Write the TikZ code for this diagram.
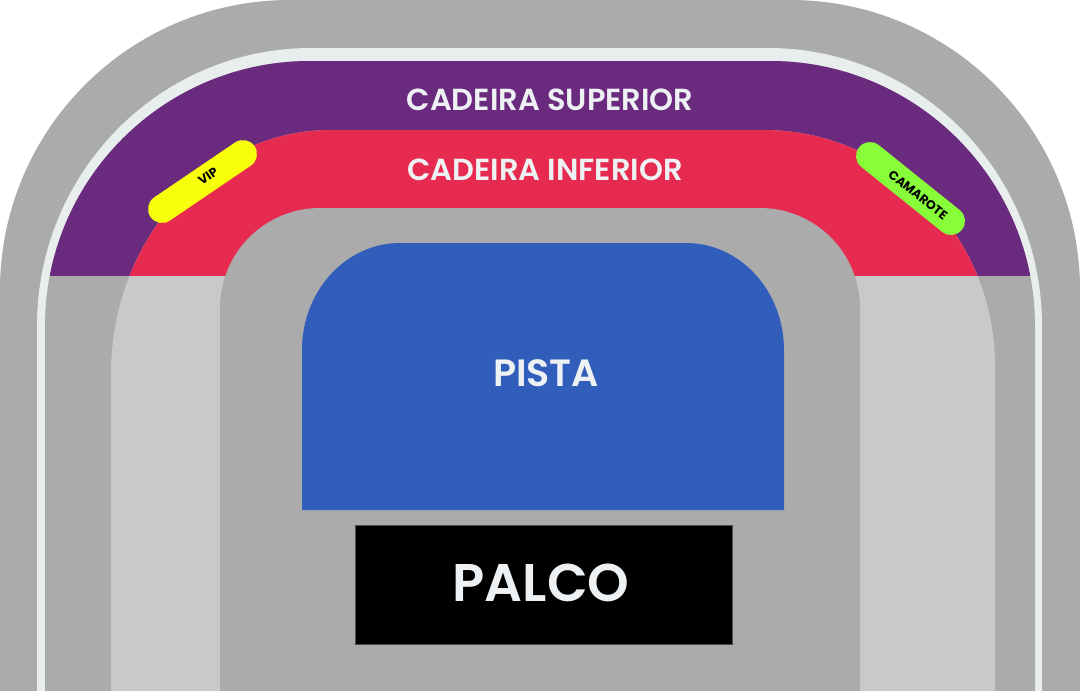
\documentclass[tikz,border=0pt]{standalone}
\usepackage{fontspec}
\setmainfont{Poppins}[BoldFont={Poppins SemiBold}]
\newfontfamily\pillfont{Poppins}
\definecolor{grayA}{HTML}{ABABAB}
\definecolor{grayL}{HTML}{C9C9C9}
\definecolor{stripC}{HTML}{E8EEEE}
\definecolor{purpleC}{HTML}{6A2A7E}
\definecolor{redC}{HTML}{E72A4F}
\definecolor{blueC}{HTML}{315DBB}
\definecolor{yellowC}{HTML}{F8FF0B}
\definecolor{greenC}{HTML}{88FD3A}
\definecolor{txtC}{HTML}{EEF1F3}
% #1 left x, #2 top y, #3 right x, #4 bottom y, #5 left rx, #6 left ry, #7 right rx, #8 right ry
\newcommand\TopRound[8]{(#1,#4) -- (#1,#2+#6) .. controls (#1,#2+0.4477*#6) and (#1+0.4477*#5,#2) .. (#1+#5,#2) -- (#3-#7,#2) .. controls (#3-0.4477*#7,#2) and (#3,#2+0.4477*#8) .. (#3,#2+#8) -- (#3,#4) -- cycle}
\tikzset{
  zonelabel/.style={text=txtC, font=\bfseries\fontsize{30.5}{36}\selectfont, inner sep=0pt},
  pill/.style={line width=28pt, line cap=round},
  pilllabel/.style={text=black, font=\pillfont\bfseries\fontsize{12.5}{14}\selectfont, inner sep=0pt}
}
\begin{document}
\begin{tikzpicture}[x=1pt,y=-1pt]
\useasboundingbox (0,0) rectangle (1080,691);
\fill[white] (0,0) rectangle (1080,691);
% outer gray
\fill[grayA] \TopRound{0}{0}{1080}{720}{290}{290}{290}{290};
% light strip
\fill[stripC] \TopRound{37}{48}{1042}{720}{274}{278}{274}{278};
% gray inside strip
\fill[grayA] \TopRound{45}{61}{1035}{720}{265}{265}{265}{265};
\begin{scope}
  \clip (0,0) rectangle (1080,275);
  \fill[purpleC] \TopRound{45}{61}{1035}{720}{265}{265}{265}{265};
\end{scope}
% lower ring
\fill[grayL] \TopRound{111}{130}{995}{720}{220}{244}{232}{236};
\begin{scope}
  \clip (0,0) rectangle (1080,275);
  \fill[redC] \TopRound{111}{130}{995}{720}{220}{244}{232}{236};
\end{scope}
% inner gray
\fill[grayA] \TopRound{220}{208}{860}{720}{100}{100}{100}{100};
% pista
\fill[blueC] \TopRound{302}{243}{784}{510}{98}{107}{98}{107};
% palco
\filldraw[fill=black, draw=black!70, line width=0.8pt] (355,525) rectangle (732,644);
% pills
\coordinate (vipA) at (162,209);
\coordinate (vipB) at (243,154);
\coordinate (camA) at (870,156);
\coordinate (camB) at (951,221);
\draw[pill, yellowC] (vipA) -- (vipB);
\draw[pill, greenC] (camA) -- (camB);
% labels
\node[zonelabel] (sup) at (550,100) {CADEIRA SUPERIOR};
\node[zonelabel] (inf) at (545,170) {CADEIRA INFERIOR};
\node[zonelabel, font=\bfseries\fontsize{38}{44}\selectfont] (pista) at (546,373) {PISTA};
\node[zonelabel, font=\bfseries\fontsize{53}{60}\selectfont] (palco) at (541,583) {PALCO};
\node[pilllabel, rotate=34] (vip) at (208,176) {VIP};
\node[pilllabel, rotate=-38.7] (cam) at (918,195) {CAMAROTE};
\end{tikzpicture}
\end{document}
